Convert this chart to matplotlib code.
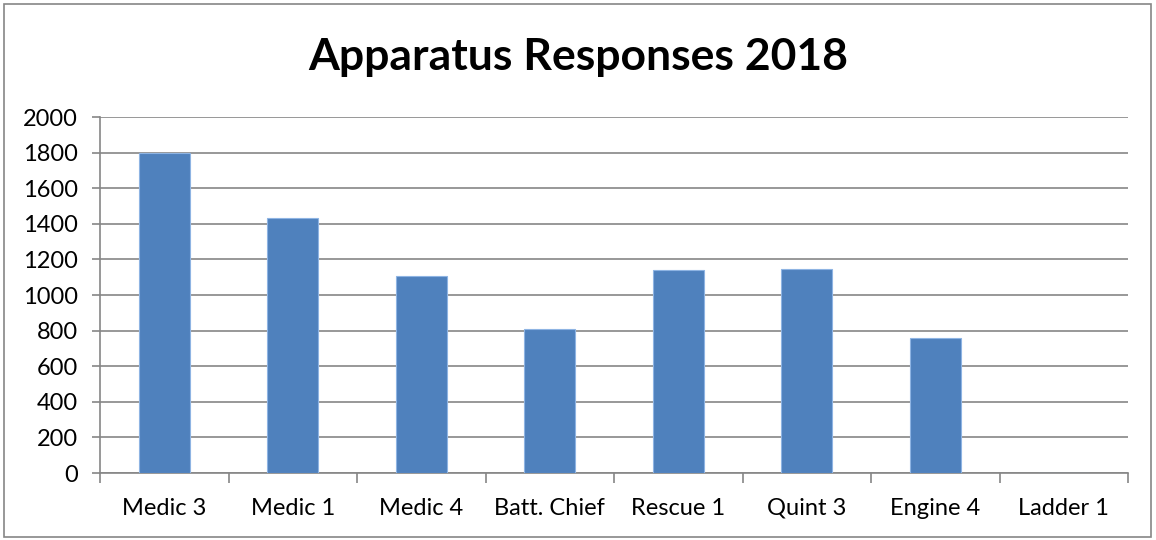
import matplotlib
matplotlib.use("Agg")
import matplotlib.pyplot as plt
from matplotlib.patches import Rectangle
import numpy as np

units = ["Medic 3", "Medic 1", "Medic 4", "Batt. Chief", "Rescue 1", "Quint 3", "Engine 4", "Ladder 1"]
responses = [1800, 1430, 1106, 810, 1140, 1148, 759, 0]
yticks = [0, 200, 400, 600, 800, 1000, 1200, 1400, 1600, 1800, 2000]

plt.rcParams['font.family'] = ['Lato', 'DejaVu Sans']

fig = plt.figure(figsize=(11.56, 5.4), dpi=100)
ax = fig.add_axes([100 / 1156, 1 - 473 / 540, 1028 / 1156, 356 / 540])

x = np.arange(len(units))
ax.bar(x, responses, width=0.4, color='#4F81BD', edgecolor='#8EB4E3', linewidth=0.8, zorder=3)

ax.set_xlim(-0.5, len(units) - 0.5)
ax.set_ylim(0, 2000)
ax.set_yticks(yticks)
ax.set_yticklabels([str(v) for v in yticks], fontsize=17)
ax.set_xticks(x)
ax.set_xticklabels(units, fontsize=17, va='baseline')
ax.set_xticks(np.arange(len(units) + 1) - 0.5, minor=True)
ax.tick_params(axis='x', which='major', length=0, pad=30)
ax.tick_params(axis='x', which='minor', length=7, color='#868686', width=1.2)
ax.tick_params(axis='y', length=6, color='#868686', width=1.2, pad=10)

ax.grid(axis='y', color='#868686', linewidth=1.2, zorder=0)
for side in ['top', 'right']:
    ax.spines[side].set_visible(False)
for side in ['left', 'bottom']:
    ax.spines[side].set_color('#868686')
    ax.spines[side].set_linewidth(1.2)

fig.text(0.5, 1 - 57 / 540, 'Apparatus Responses 2018', ha='center', va='center',
         fontsize=32, fontweight='bold')

fig.patches.append(Rectangle((4 / 1156, 3 / 540), 1 - 9 / 1156, 1 - 7 / 540,
                             transform=fig.transFigure, fill=False,
                             edgecolor='#868686', linewidth=1.2))

fig.savefig('out.png', dpi=100)
